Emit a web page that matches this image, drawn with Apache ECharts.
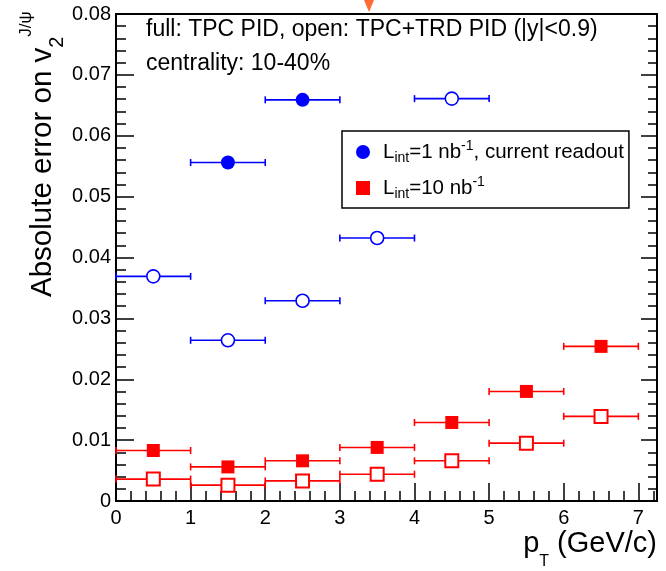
<!DOCTYPE html>
<html>
<head>
<meta charset="utf-8">
<script src="https://cdn.jsdelivr.net/npm/echarts@6/dist/echarts.min.js"></script>
<style>
html,body{margin:0;padding:0;background:#fff;}
#chart{width:666px;height:571px;}
</style>
</head>
<body>
<div id="chart"></div>
<script>
// ---- data ----
const xBlueFull = [1.5, 2.5];
const yBlueFull = [0.0556, 0.0659];
const xBlueOpen = [0.5, 1.5, 2.5, 3.5, 4.5];
const yBlueOpen = [0.0369, 0.0264, 0.0329, 0.0432, 0.0661];
const xRed = [0.5, 1.5, 2.5, 3.5, 4.5, 5.5, 6.5];
const yRedFull = [0.0083, 0.0056, 0.0066, 0.0088, 0.0129, 0.0180, 0.0254];
const yRedOpen = [0.0036, 0.0026, 0.0033, 0.0044, 0.0066, 0.0095, 0.0139];
const xHalfWidth = [0.5];
const yTicks = [0, 0.01, 0.02, 0.03, 0.04, 0.05, 0.06, 0.07, 0.08];
const xTicks = [0, 1, 2, 3, 4, 5, 6, 7];

const FONT = "'Liberation Sans', Arial, Helvetica, sans-serif";
const BLUE = '#0000ff', RED = '#ff0000';
const nameBlue = 'Lint=1 nb-1, current readout';
const nameRed = 'Lint=10 nb-1';

function pts(xs, ys) { return xs.map((x, i) => [x, ys[i], xHalfWidth[0]]); }

function errBarSeries(xs, ys, color) {
  return {
    type: 'custom',
    z: 1,
    silent: true,
    data: pts(xs, ys),
    renderItem: function (params, api) {
      const x = api.value(0), y = api.value(1), e = api.value(2);
      const p1 = api.coord([x - e, y]);
      const p2 = api.coord([x + e, y]);
      const c = 3.5;
      const st = { stroke: color, lineWidth: 1.6 };
      return {
        type: 'group',
        children: [
          { type: 'line', shape: { x1: p1[0], y1: p1[1], x2: p2[0], y2: p2[1] }, style: st },
          { type: 'line', shape: { x1: p1[0], y1: p1[1] - c, x2: p1[0], y2: p1[1] + c }, style: st },
          { type: 'line', shape: { x1: p2[0], y1: p2[1] - c, x2: p2[0], y2: p2[1] + c }, style: st }
        ]
      };
    }
  };
}

const chart = echarts.init(document.getElementById('chart'), null, { renderer: 'canvas' });

const axisCommon = {
  axisLine: { show: true, lineStyle: { color: '#000', width: 2 } },
  splitLine: { show: false },
};

const option = {
  backgroundColor: '#fff',
  animation: false,
  textStyle: { fontFamily: FONT },
  grid: { left: 116, right: 9, top: 14, bottom: 70, show: true, borderColor: '#000', borderWidth: 2, backgroundColor: 'transparent' },
  xAxis: [{
    type: 'value', min: xTicks[0], max: 7.25, interval: 1,
    ...axisCommon,
    axisTick: { show: true, inside: true, length: 18, lineStyle: { color: '#000', width: 1.5 } },
    minorTick: { show: true, splitNumber: 5, length: 10, lineStyle: { color: '#000', width: 1.5 } },
    axisLabel: { show: true, margin: 7, fontSize: 20, color: '#000', fontFamily: FONT, showMaxLabel: false,
      formatter: v => (xTicks.indexOf(v) >= 0 ? String(v) : '') }
  }],
  yAxis: [{
    type: 'value', min: yTicks[0], max: yTicks[yTicks.length - 1], interval: 0.01, position: 'left',
    ...axisCommon,
    axisTick: { show: true, inside: true, length: 18, lineStyle: { color: '#000', width: 1.5 } },
    minorTick: { show: true, splitNumber: 5, length: 10, lineStyle: { color: '#000', width: 1.5 } },
    axisLabel: { show: true, margin: 5, fontSize: 20, color: '#000', fontFamily: FONT,
      formatter: v => (v === 0 ? '0' : v.toFixed(2)) }
  }, {
    type: 'value', min: yTicks[0], max: yTicks[yTicks.length - 1], interval: 0.01, position: 'right',
    ...axisCommon,
    axisTick: { show: true, inside: true, length: 16, lineStyle: { color: '#000', width: 1.5 } },
    minorTick: { show: true, splitNumber: 5, length: 9, lineStyle: { color: '#000', width: 1.5 } },
    axisLabel: { show: false }
  }],
  legend: {
    orient: 'vertical',
    left: 342, top: 131,
    selectedMode: false,
    backgroundColor: '#fff',
    borderColor: '#000', borderWidth: 1.5,
    padding: [8, 5, 7, 14],
    itemWidth: 14, itemHeight: 14, itemGap: 10,
    data: [{ name: nameBlue, icon: 'circle' }, { name: nameRed, icon: 'rect' }],
    formatter: function (name) {
      if (name === nameBlue) return '{f|L}{s|int}{n|=1 nb}{p|-1}{n|, current readout}';
      return '{f|L}{s|int}{n|=10 nb}{p|-1}';
    },
    textStyle: {
      color: '#000', fontFamily: FONT, fontSize: 20.5,
      rich: {
        f: { fontSize: 20.5, lineHeight: 22, fontFamily: FONT, color: '#000', padding: [0, 0, 0, 8] },
        n: { fontSize: 20.5, lineHeight: 22, fontFamily: FONT, color: '#000' },
        s: { fontSize: 14, lineHeight: 14, fontFamily: FONT, color: '#000', padding: [12, 0, 0, 0] },
        p: { fontSize: 14, lineHeight: 14, fontFamily: FONT, color: '#000', padding: [0, 0, 12, 0] }
      }
    }
  },
  series: [
    errBarSeries(xBlueOpen, yBlueOpen, BLUE),
    errBarSeries(xBlueFull, yBlueFull, BLUE),
    errBarSeries(xRed, yRedOpen, RED),
    errBarSeries(xRed, yRedFull, RED),
    { name: 'blue open', type: 'scatter', z: 3, symbol: 'circle', symbolSize: 13,
      itemStyle: { color: '#fff', borderColor: BLUE, borderWidth: 1.6, opacity: 1 },
      data: xBlueOpen.map((x, i) => [x, yBlueOpen[i]]) },
    { name: nameBlue, type: 'scatter', z: 3, symbol: 'circle', symbolSize: 14,
      itemStyle: { color: BLUE, opacity: 1 },
      data: xBlueFull.map((x, i) => [x, yBlueFull[i]]) },
    { name: 'red open', type: 'scatter', z: 3, symbol: 'rect', symbolSize: 13,
      itemStyle: { color: '#fff', borderColor: RED, borderWidth: 2, opacity: 1 },
      data: xRed.map((x, i) => [x, yRedOpen[i]]) },
    { name: nameRed, type: 'scatter', z: 3, symbol: 'rect', symbolSize: 13,
      itemStyle: { color: RED, opacity: 1 },
      data: xRed.map((x, i) => [x, yRedFull[i]]) }
  ],
  graphic: [
    { type: 'text', left: 146, top: 18, z: 10,
      style: { text: 'full: TPC PID, open: TPC+TRD PID (|y|<0.9)', font: '23px ' + FONT, fill: '#000' } },
    { type: 'text', left: 146, top: 52, z: 10,
      style: { text: 'centrality: 10-40%', font: '23px ' + FONT, fill: '#000' } },
    { type: 'text', x: 43, y: 297, rotation: Math.PI / 2, z: 10,
      style: {
        text: '{m|Absolute error on v}{s|2}{p|J/ψ}',
        align: 'left', verticalAlign: 'middle',
        rich: {
          m: { fontSize: 29.5, fontFamily: FONT, fill: '#000', lineHeight: 30 },
          s: { fontSize: 20, fontFamily: FONT, fill: '#000', lineHeight: 20, padding: [28, 0, 0, 0] },
          p: { fontSize: 17, fontFamily: FONT, fill: '#000', lineHeight: 17, padding: [0, 0, 33, 0] }
        }
      } },
    { type: 'text', x: 657, y: 544, z: 10,
      style: {
        text: '{m|p}{s|T}{m| (GeV/c)}',
        align: 'right', verticalAlign: 'middle',
        rich: {
          m: { fontSize: 29, fontFamily: FONT, fill: '#000', lineHeight: 30 },
          s: { fontSize: 16, fontFamily: FONT, fill: '#000', lineHeight: 16, padding: [36, 0, 0, 0] }
        }
      } },
    { type: 'polygon', z: 10, shape: { points: [[364, 0], [374, 0], [369, 12]] }, style: { fill: '#fd6a32' } }
  ]
};
chart.setOption(option);
</script>
</body>
</html>
